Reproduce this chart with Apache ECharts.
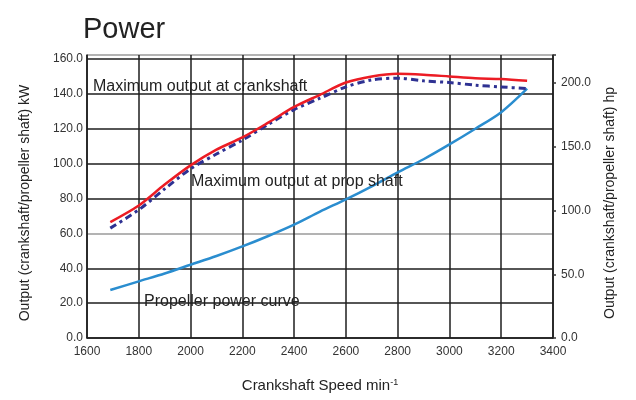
<!DOCTYPE html>
<html>
<head>
<meta charset="utf-8">
<script src="https://cdn.jsdelivr.net/npm/echarts@6/dist/echarts.min.js"></script>
<style>html,body{margin:0;padding:0;background:#fff;}#c{width:636px;height:400px;}</style>
</head>
<body>
<div id="c"></div>
<script>
// Data
const rpm = [1690, 1800, 1900, 2000, 2100, 2200, 2300, 2400, 2500, 2600, 2700, 2800, 2900, 3000, 3100, 3200, 3300];
const crankshaftMax = [66.5, 76, 88, 99, 108, 115, 123.5, 132.5, 139.5, 146.5, 150, 151.5, 151, 150, 149, 148.5, 147.5];
const propShaftMax = [63, 73.5, 85.5, 97, 105.5, 113.5, 122.5, 131, 137.5, 144, 148, 149, 147.5, 146.5, 145, 144, 143];
const propellerCurve = [27.5, 32.5, 37, 42, 47, 52.5, 58.5, 65, 72.5, 79.5, 87, 95, 102.5, 111, 120, 129.5, 143];
const kwTicks = [0, 20, 40, 60, 80, 100, 120, 140, 160];
const hpTicks = [0, 50, 100, 150, 200];
const labels = {
  crank: 'Maximum output at crankshaft',
  prop: 'Maximum output at prop shaft',
  curve: 'Propeller power curve'
};

const FONT = "'Liberation Sans', Arial, Helvetica, sans-serif";
const pairs = (ys) => rpm.map((x, i) => [x, ys[i]]);

const chart = echarts.init(document.getElementById('c'), null, {renderer: 'canvas'});
const kwColors = [];
[0, 20, 40, 60, 80, 100, 120, 140, 160, 'max'].forEach(v => kwColors.push(v === 60 || v === 'max' ? '#9a9a9a' : '#1e1e1e'));

chart.setOption({
  animation: false,
  backgroundColor: '#fff',
  title: {
    text: 'Power', left: 78, top: 10,
    textStyle: {fontFamily: FONT, fontSize: 29, fontWeight: 'normal', color: '#222'}
  },
  grid: {left: 87, right: 83, top: 55, bottom: 62, containLabel: false},
  xAxis: {
    type: 'value', min: 1600, max: 3400, interval: 200,
    name: 'Crankshaft Speed min{sup|-1}', nameLocation: 'middle', nameGap: 40,
    nameTextStyle: {
      fontFamily: FONT, fontSize: 15, color: '#222',
      rich: {sup: {fontFamily: FONT, fontSize: 9, color: '#222', verticalAlign: 'top', lineHeight: 10}}
    },
    axisLine: {show: true, onZero: false, lineStyle: {color: '#1e1e1e', width: 1.5}},
    axisTick: {show: false},
    axisLabel: {fontFamily: FONT, fontSize: 12, color: '#333', margin: 8, formatter: v => String(v)},
    splitLine: {show: true, lineStyle: {color: '#1e1e1e', width: 1.5}}
  },
  yAxis: [{
    type: 'value', min: 0, max: 162.3, interval: 20, position: 'left',
    axisLine: {show: true, lineStyle: {color: '#1e1e1e', width: 1.5}},
    axisTick: {show: false},
    axisLabel: {
      fontFamily: FONT, fontSize: 12, color: '#333', margin: 4,
      formatter: v => kwTicks.indexOf(v) >= 0 ? v.toFixed(1) : ''
    },
    splitLine: {show: true, lineStyle: {color: kwColors, width: 1.5}}
  }, {
    type: 'value', min: 0, max: 222, interval: 50, position: 'right',
    axisLine: {show: true, lineStyle: {color: '#1e1e1e', width: 1.5}},
    axisTick: {show: true, inside: false, length: 3, lineStyle: {color: '#333', width: 1.5}},
    axisLabel: {
      fontFamily: FONT, fontSize: 12, color: '#333', margin: 8,
      formatter: v => hpTicks.indexOf(v) >= 0 ? v.toFixed(1) : ''
    },
    splitLine: {show: false}
  }],
  series: [{
    name: labels.curve, type: 'line', data: pairs(propellerCurve), smooth: 0.3,
    showSymbol: false, lineStyle: {color: '#2a8dcf', width: 2.5}, z: 3
  }, {
    name: labels.prop, type: 'line', data: pairs(propShaftMax), smooth: 0.3,
    showSymbol: false, lineStyle: {color: '#2e3192', width: 3, type: [7, 4, 3, 4]}, z: 4
  }, {
    name: labels.crank, type: 'line', data: pairs(crankshaftMax), smooth: 0.3,
    showSymbol: false, lineStyle: {color: '#ec1c24', width: 2.5}, z: 5
  }],
  graphic: [
    {type: 'text', x: 93, y: 87, z: 10, style: {text: labels.crank, font: "16px " + FONT, fill: '#222', textAlign: 'left', textVerticalAlign: 'middle', verticalAlign: 'middle'}},
    {type: 'text', x: 191, y: 182, z: 10, style: {text: labels.prop, font: "16px " + FONT, fill: '#222', textAlign: 'left', textVerticalAlign: 'middle', verticalAlign: 'middle'}},
    {type: 'text', x: 144, y: 302, z: 10, style: {text: labels.curve, font: "16px " + FONT, fill: '#222', textAlign: 'left', textVerticalAlign: 'middle', verticalAlign: 'middle'}},
    {type: 'text', x: 25, y: 203, rotation: Math.PI / 2, style: {text: 'Output (crankshaft/propeller shaft) kW', font: "14px " + FONT, fill: '#222', textAlign: 'center', textVerticalAlign: 'middle', verticalAlign: 'middle'}},
    {type: 'text', x: 610, y: 203, rotation: Math.PI / 2, style: {text: 'Output (crankshaft/propeller shaft) hp', font: "14px " + FONT, fill: '#222', textAlign: 'center', textVerticalAlign: 'middle', verticalAlign: 'middle'}}
  ]
});
</script>
</body>
</html>
